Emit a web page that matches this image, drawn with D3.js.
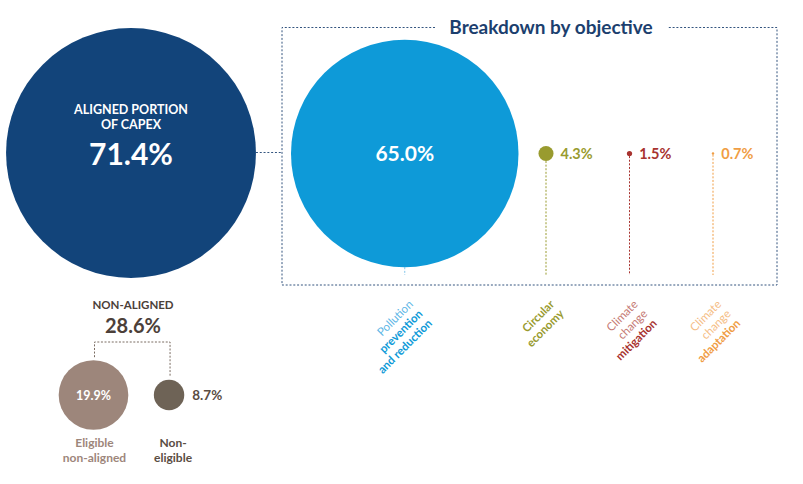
<!DOCTYPE html>
<html>
<head>
<meta charset="utf-8">
<script src="https://cdn.jsdelivr.net/npm/d3@7"></script>
<style>
  html, body { margin: 0; padding: 0; background: #ffffff; }
  svg { display: block; font-family: Lato, "Open Sans", sans-serif; }
</style>
</head>
<body>
<svg id="chart" width="803" height="484"></svg>
<script>
// Share of CapEx aligned with the taxonomy, and its split by objective
const alignedTitle = ["ALIGNED PORTION", "OF CAPEX"];
const alignedValue = 71.4;

const objectiveNames = [
  "Pollution prevention and reduction",
  "Circular economy",
  "Climate change mitigation",
  "Climate change adaptation"
];
const objectiveValues = [65.0, 4.3, 1.5, 0.7];
// label lines per objective: [text, emphasised?]
const objectiveLines = [
  [["Pollution", false], ["prevention", true], ["and reduction", true]],
  [["Circular", true], ["economy", true]],
  [["Climate", false], ["change", false], ["mitigation", true]],
  [["Climate", false], ["change", false], ["adaptation", true]]
];
const objectiveColors = ["#0e9ad8", "#999b2f", "#a8332f", "#f09d44"];
const objectiveLight = ["#5db6e6", "#999b2f", "#c47873", "#f5bd84"];

// Non-aligned part and its split
const nonAlignedTitle = "NON-ALIGNED";
const nonAlignedValue = 28.6;
const nonAlignedNames = [["Eligible", "non-aligned"], ["Non-", "eligible"]];
const nonAlignedValues = [19.9, 8.7];
const nonAlignedColors = ["#9d867b", "#6e6356"];
const nonAlignedText = ["#9d867b", "#5a4d43"];

const fmt = v => d3.format(".1f")(v) + "%";

const svg = d3.select("#chart");

// radius grows linearly with the percentage
const r = d3.scaleLinear().domain([0, 100]).range([0, 175]);

// ---- aligned total ----
const bigX = 131, bigY = 153;
svg.append("circle")
  .attr("cx", bigX).attr("cy", bigY).attr("r", r(alignedValue))
  .attr("fill", "#12447a");
svg.append("text")
  .attr("x", bigX).attr("text-anchor", "middle")
  .attr("fill", "#ffffff").attr("font-weight", 700).attr("font-size", 12.5)
  .selectAll("tspan").data(alignedTitle).join("tspan")
  .attr("x", bigX).attr("y", (d, i) => 113.5 + i * 15.5)
  .text(d => d);
svg.append("text")
  .attr("x", bigX).attr("y", 165).attr("text-anchor", "middle")
  .attr("fill", "#ffffff").attr("font-weight", 700).attr("font-size", 30)
  .text(fmt(alignedValue));

// ---- breakdown box ----
const box = { x0: 282, y0: 27.5, x1: 777, y1: 285 };
const dash = "2,1.8";
const boxColor = "#34557f";
const titleGap = [435, 667];
const boxPath = d3.path();
boxPath.moveTo(titleGap[0], box.y0);
boxPath.lineTo(box.x0, box.y0);
boxPath.lineTo(box.x0, box.y1);
boxPath.lineTo(box.x1, box.y1);
boxPath.lineTo(box.x1, box.y0);
boxPath.lineTo(titleGap[1], box.y0);
svg.append("path").attr("d", boxPath.toString())
  .attr("fill", "none").attr("stroke", boxColor)
  .attr("stroke-width", 1).attr("stroke-dasharray", dash);
svg.append("text")
  .attr("x", 551).attr("y", 34).attr("text-anchor", "middle")
  .attr("fill", "#1c3f6e").attr("font-weight", 700).attr("font-size", 19)
  .text("Breakdown by objective");

// connector from the aligned circle to the box
svg.append("line")
  .attr("x1", bigX + r(alignedValue)).attr("x2", box.x0)
  .attr("y1", 152.5).attr("y2", 152.5)
  .attr("stroke", boxColor).attr("stroke-dasharray", dash);

// objective positions: first bubble sits against the box, the small ones on a point scale
const objY = 153.5;
const small = d3.scalePoint().domain([1, 2, 3]).range([546, 713]);
const objX = objectiveValues.map((v, i) => i === 0 ? box.x0 + 9 + r(v) : small(i));
const stemBottom = 275;

const obj = svg.append("g").selectAll("g")
  .data(objectiveValues.map((v, i) => ({ v, i, name: objectiveNames[i] })))
  .join("g");

obj.append("line")
  .attr("x1", d => objX[d.i]).attr("x2", d => objX[d.i])
  .attr("y1", d => objY + r(d.v)).attr("y2", stemBottom)
  .attr("stroke", d => d.i === 0 ? "#7fc4ea" : objectiveColors[d.i])
  .attr("stroke-width", 1).attr("stroke-dasharray", "2,1.6");

obj.append("circle")
  .attr("cx", d => objX[d.i]).attr("cy", objY).attr("r", d => r(d.v))
  .attr("fill", d => objectiveColors[d.i]);

obj.append("text")
  .attr("x", d => d.i === 0 ? objX[d.i] : objX[d.i] + r(d.v) + 7)
  .attr("y", d => d.i === 0 ? 161 : 158.5)
  .attr("text-anchor", d => d.i === 0 ? "middle" : "start")
  .attr("font-weight", 700)
  .attr("font-size", d => d.i === 0 ? 21 : 14.5)
  .attr("fill", d => d.i === 0 ? "#ffffff" : objectiveColors[d.i])
  .text(d => fmt(d.v));

// slanted category labels under the box, one text element per line,
// each turned 45 degrees about its own end point
const lineStep = 13.5;
const diag = Math.SQRT1_2;
const catX = d => objX[d.i] + 9 + d.j * lineStep * diag;
const catY = d => 305 + d.j * lineStep * diag;
obj.selectAll("text.cat")
  .data(d => objectiveLines[d.i].map((l, j) => ({ t: l[0], b: l[1], i: d.i, j })))
  .join("text")
  .attr("class", "cat")
  .attr("x", catX).attr("y", catY)
  .attr("transform", d => "rotate(-45 " + catX(d) + " " + catY(d) + ")")
  .attr("text-anchor", "end").attr("font-size", 11.5)
  .attr("font-weight", d => d.b ? 700 : 400)
  .attr("fill", d => d.b ? objectiveColors[d.i] : objectiveLight[d.i])
  .text(d => d.t);

// ---- non-aligned part ----
const naX = 133;
svg.append("text")
  .attr("x", naX).attr("y", 309).attr("text-anchor", "middle")
  .attr("fill", "#4c4039").attr("font-weight", 700).attr("font-size", 11.5)
  .text(nonAlignedTitle);
svg.append("text")
  .attr("x", naX).attr("y", 333).attr("text-anchor", "middle")
  .attr("fill", "#4c4039").attr("font-weight", 700).attr("font-size", 20)
  .text(fmt(nonAlignedValue));

const naY = 395;
const naX0 = 93.5;
const naCx = [naX0, naX0 + r(nonAlignedValues[0]) + 25.5 + r(nonAlignedValues[1])];

// bracket linking the two parts
const br = d3.path();
br.moveTo(naCx[0] + 1, naY - r(nonAlignedValues[0]) - 3);
br.lineTo(naCx[0] + 1, 342);
br.lineTo(naCx[1] + 1, 342);
br.lineTo(naCx[1] + 1, naY - r(nonAlignedValues[1]) - 3);
svg.append("path").attr("d", br.toString())
  .attr("fill", "none").attr("stroke", "#7a6c62")
  .attr("stroke-width", 1).attr("stroke-dasharray", "2,1.6");

const na = svg.append("g").selectAll("g")
  .data(nonAlignedValues.map((v, i) => ({ v, i })))
  .join("g");

na.append("circle")
  .attr("cx", d => naCx[d.i]).attr("cy", naY).attr("r", d => r(d.v))
  .attr("fill", d => nonAlignedColors[d.i]);

na.append("text")
  .attr("x", d => d.i === 0 ? naCx[d.i] : naCx[d.i] + r(d.v) + 8)
  .attr("y", naY + 4.5)
  .attr("text-anchor", d => d.i === 0 ? "middle" : "start")
  .attr("font-weight", 700)
  .attr("font-size", d => d.i === 0 ? 12.5 : 13.5)
  .attr("fill", d => d.i === 0 ? "#ffffff" : "#5a4d43")
  .text(d => fmt(d.v));

na.append("text")
  .attr("text-anchor", "middle").attr("font-weight", 700).attr("font-size", 12)
  .attr("fill", d => nonAlignedText[d.i])
  .selectAll("tspan").data(d => nonAlignedNames[d.i].map(t => ({ t, i: d.i })))
  .join("tspan")
  .attr("x", d => naCx[d.i] + (d.i === 0 ? 1 : 4))
  .attr("y", (d, j) => 447 + j * 14.5)
  .text(d => d.t);
</script>
</body>
</html>
